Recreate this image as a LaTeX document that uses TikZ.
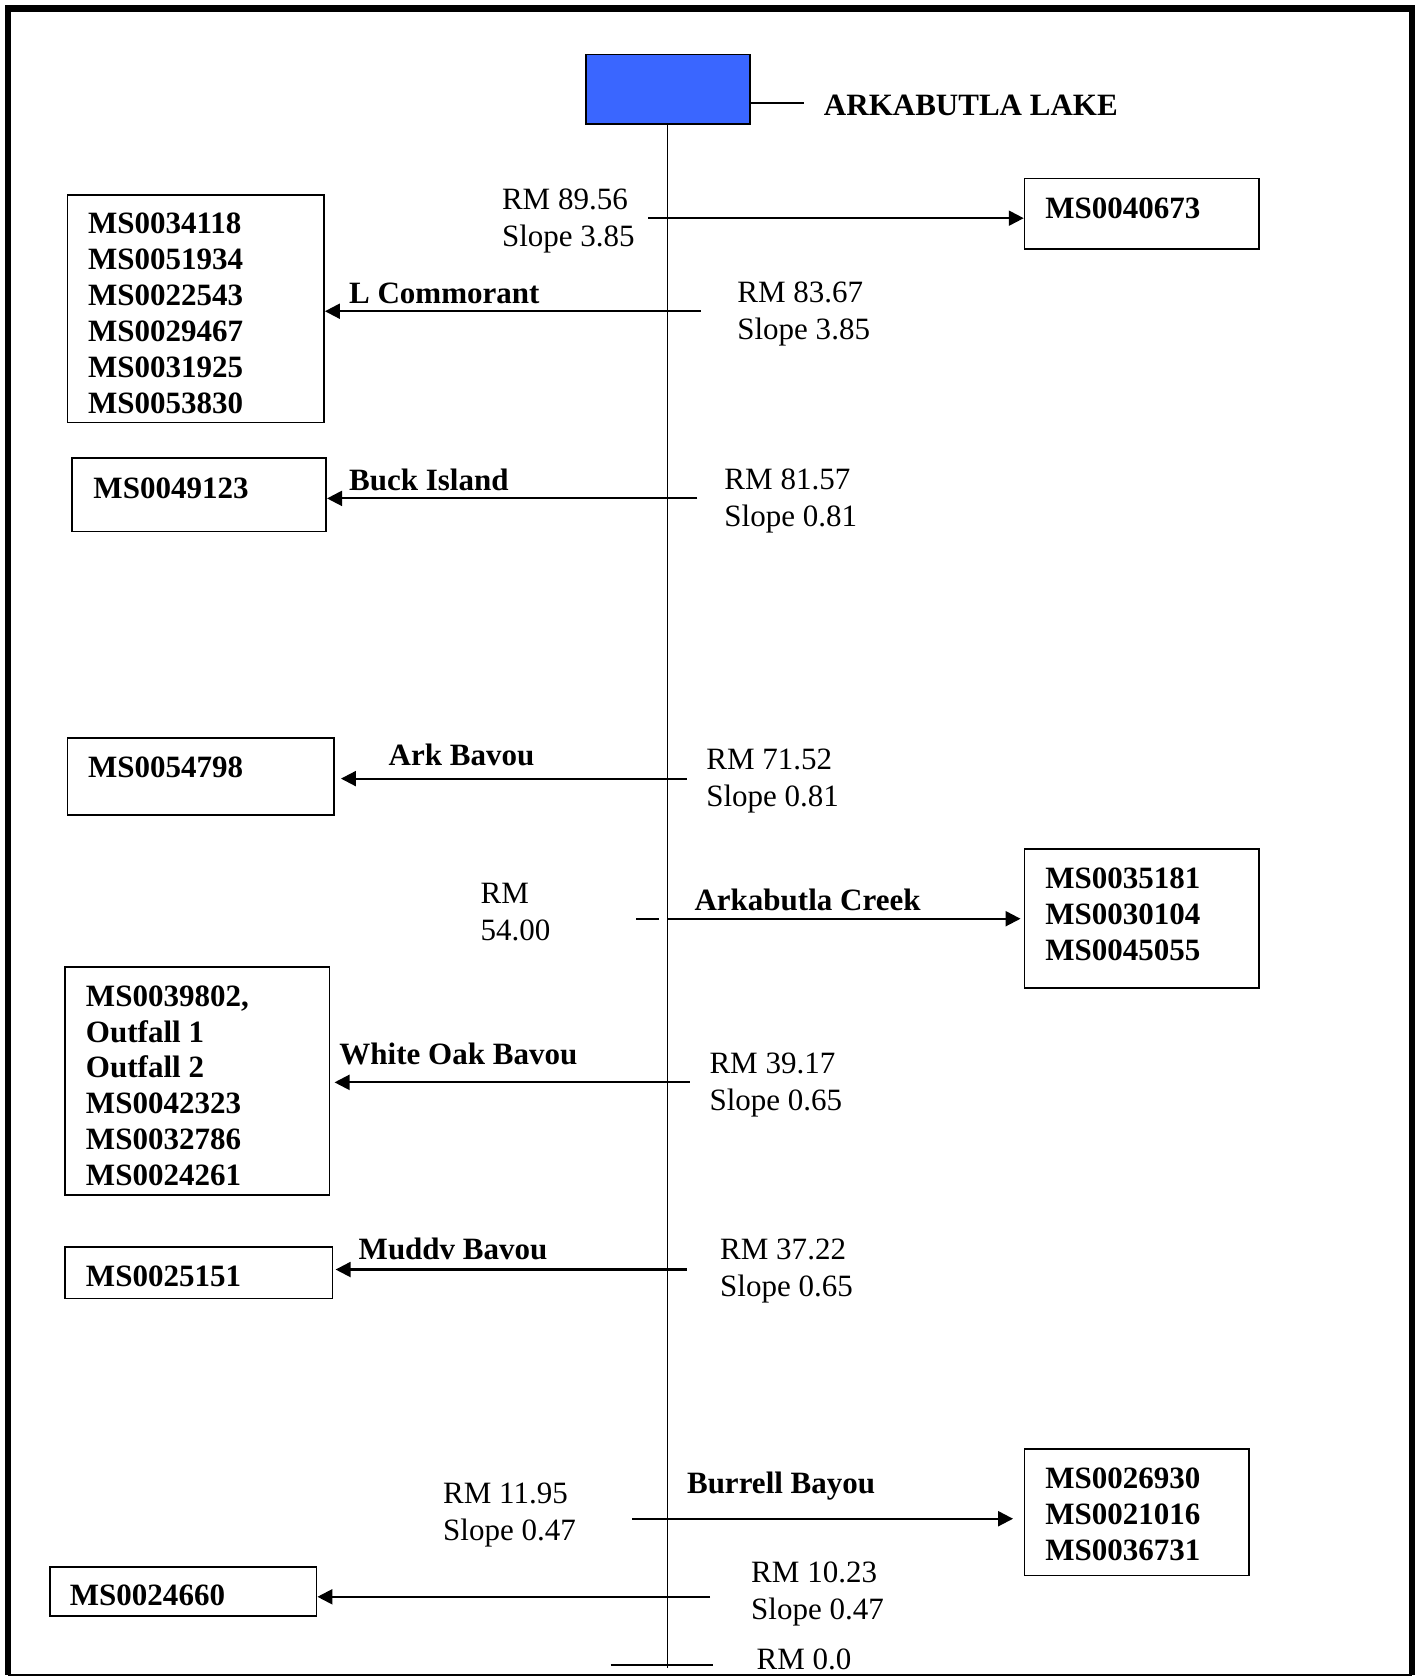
\documentclass[tikz,border=0pt]{standalone}
\usepackage{fontspec}
\setmainfont{Liberation Serif}
\usetikzlibrary{arrows.meta,fit}
\definecolor{lakeblue}{RGB}{58,102,255}
\begin{document}
\begin{tikzpicture}[x=0.5pt,y=-0.5pt,
  boxstyle/.style={draw, line width=0.8pt, inner sep=0pt},
  idtext/.style={anchor=north west, inner sep=0pt, align=left, font=\fontsize{14.5}{16.8}\selectfont\bfseries},
  rmtext/.style={anchor=north west, inner sep=0pt, align=left, font=\fontsize{14.5}{17.3}\selectfont},
  trib/.style={anchor=base west, inner sep=0pt, font=\fontsize{14.5}{17}\selectfont\bfseries},
  arr/.style={-{Triangle[length=7pt,width=7pt]}, line width=1pt},
  river/.style={line width=0.7pt}]
\useasboundingbox (0,0) rectangle (1332,1568);
% border
\draw[line width=3pt] (7.5,1566) -- (7.5,8) -- (1320,8) -- (1320,1566);
\draw[line width=0.6pt] (7.5,1566) -- (1320,1566);
% lake
\node[fit={(548,51) (701,116)}, draw, fill=lakeblue, line width=0.8pt, inner sep=0pt] (lake) {};
\coordinate (lk) at (752,96);
\draw[line width=0.8pt] (lake.east |- lk) -- (lk);
\node[trib] (lakelbl) at (770,108) {ARKABUTLA LAKE};
\coordinate (bot) at (624,1560);
\draw[river] (lake.south -| bot) -- (bot);
\coordinate (tickl) at (571,1557);
\coordinate (tickr) at (667,1557);
\draw[line width=1pt] (tickl) -- (tickr);
\node[rmtext] (rm0) at (707,1541) {RM 0.0};
% boxes
\node[boxstyle, fit={(958,167) (1177,233)}] (b1) {};
\node[boxstyle, fit={(63,182) (303,395)}] (b2) {};
\node[boxstyle, fit={(67,428) (305,497)}] (b3) {};
\node[boxstyle, fit={(63,690) (312,762)}] (b4) {};
\node[boxstyle, fit={(958,794) (1177,924)}] (b5) {};
\node[boxstyle, fit={(61,904) (308,1117)}] (b6) {};
\node[boxstyle, fit={(61,1166) (311,1214)}] (b7) {};
\node[boxstyle, fit={(958,1355) (1168,1473)}] (b8) {};
\node[boxstyle, fit={(47,1465) (296,1511)}] (b9) {};
% box texts
\node[idtext] (t1) at (977,185) {MS0040673};
\node[idtext] (t2) at (82,199) {MS0034118\\MS0051934\\MS0022543\\MS0029467\\MS0031925\\MS0053830};
\node[idtext] (t3) at (87,446) {MS0049123};
\node[idtext] (t4) at (82,707) {MS0054798};
\node[idtext] (t5) at (977,811) {MS0035181\\MS0030104\\MS0045055};
\node[idtext] (t6) at (80,921) {MS0039802,\\Outfall 1\\Outfall 2\\MS0042323\\MS0032786\\MS0024261};
\node[idtext] (t7) at (80,1183) {MS0025151};
\node[idtext] (t8) at (977,1372) {MS0026930\\MS0021016\\MS0036731};
\node[idtext] (t9) at (65,1481) {MS0024660};
% river mile labels
\node[rmtext] (m1) at (469,176) {RM 89.56\\Slope 3.85};
\node[rmtext] (m2) at (689,263) {RM 83.67\\Slope 3.85};
\node[rmtext] (m3) at (677,438) {RM 81.57\\Slope 0.81};
\node[rmtext] (m4) at (660,700) {RM 71.52\\Slope 0.81};
\node[rmtext] (m5) at (449,825) {RM\\54.00};
\node[rmtext] (m6) at (663,984) {RM 39.17\\Slope 0.65};
\node[rmtext] (m7) at (673,1158) {RM 37.22\\Slope 0.65};
\node[rmtext] (m8) at (414,1386) {RM 11.95\\Slope 0.47};
\node[rmtext] (m9) at (702,1460) {RM 10.23\\Slope 0.47};
% tributary labels
\node[trib] (l2) at (326,284) {L Commorant};
\node[trib] (l3) at (326,459) {Buck Island};
\node[trib] (l4) at (363,716) {Ark Bavou};
\node[trib] (l5) at (649,851) {Arkabutla Creek};
\node[trib] (l6) at (317,995) {White Oak Bavou};
\node[trib] (l7) at (335,1178) {Muddv Bavou};
\node[trib] (l8) at (642,1396) {Burrell Bayou};
% connectors
\coordinate (r1) at (606,204);
\draw[arr] (r1) -- (r1 -| b1.west);
\coordinate (r2) at (655,291);
\draw[arr] (r2) -- (r2 -| b2.east);
\coordinate (r3) at (652,466);
\draw[arr] (r3) -- (r3 -| b3.east);
\coordinate (r4) at (642,728);
\draw[arr, shorten >=3pt] (r4) -- (r4 -| b4.east);
\coordinate (r5) at (624,859);
\coordinate (r5a) at (595,859);
\coordinate (r5b) at (616,859);
\draw[line width=1pt] (r5a) -- (r5b);
\draw[arr, shorten >=1.5pt] (r5) -- (r5 -| b5.west);
\coordinate (r6) at (645,1012);
\draw[arr, shorten >=2pt] (r6) -- (r6 -| b6.east);
\coordinate (r7) at (642,1187);
\draw[arr, shorten >=1pt] (r7) -- (r7 -| b7.east);
\coordinate (r8) at (591,1420);
\draw[arr, shorten >=5pt] (r8) -- (r8 -| b8.west);
\coordinate (r9) at (664,1493);
\draw[arr] (r9) -- (r9 -| b9.east);
\end{tikzpicture}
\end{document}
